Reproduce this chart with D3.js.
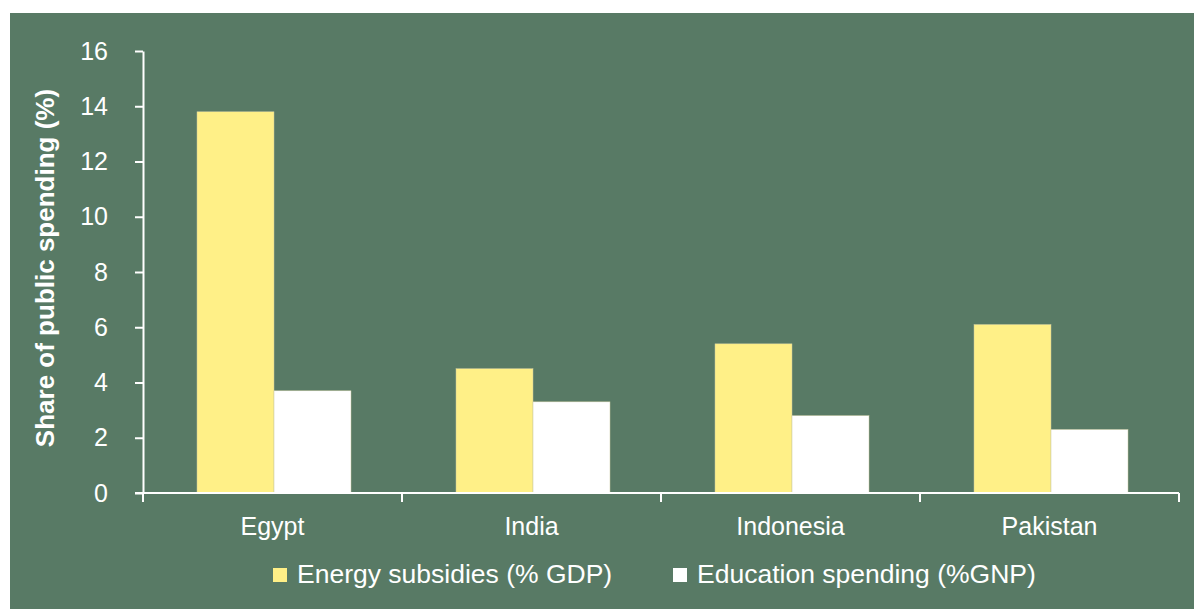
<!DOCTYPE html>
<meta charset="utf-8">
<style>
body { margin: 0; background: #fff; }
text { font-family: "Liberation Sans", Arial, sans-serif; fill: #fff; }
.axis path, .axis line { stroke: #fff; stroke-width: 2px; }
</style>
<svg class="chart" width="1194" height="609"></svg>
<script src="https://d3js.org/d3.v7.min.js"></script>
<script>

var countries = ["Egypt", "India", "Indonesia", "Pakistan"];
var energy = [13.8, 4.5, 5.4, 6.1];
var education = [3.7, 3.3, 2.8, 2.3];
var seriesNames = ["Energy subsidies (% GDP)", "Education spending (%GNP)"];
var seriesColors = ["#fff087", "#ffffff"];
var yTicks = [0, 2, 4, 6, 8, 10, 12, 14, 16];

var svg = d3.select(".chart");

svg.append("rect")
    .attr("x", 10).attr("y", 13)
    .attr("width", 1184).attr("height", 596)
    .attr("fill", "#587a65");

var x = d3.scaleBand().domain(countries).range([143, 1179]);
var y = d3.scaleLinear().domain([0, 16]).range([493, 51]);
var inner = d3.scaleBand().domain([0, 1]).range([54, 54 + 154]);

var rows = countries.map(function(c, i) {
  return { country: c, values: [energy[i], education[i]] };
});

var g = svg.append("g").selectAll("g")
    .data(rows)
    .enter().append("g")
      .attr("transform", function(d) { return "translate(" + x(d.country) + ",0)"; });

g.selectAll("rect")
    .data(function(d) { return d.values; })
    .enter().append("rect")
      .attr("x", function(d, i) { return inner(i); })
      .attr("width", inner.bandwidth())
      .attr("y", function(d) { return y(d); })
      .attr("height", function(d) { return y(0) - y(d); })
      .attr("fill", function(d, i) { return seriesColors[i]; })
      .attr("stroke", "#c8c8a0")
      .attr("stroke-width", 0.5);

// y axis
var yAxis = svg.append("g")
    .attr("class", "axis")
    .attr("transform", "translate(143,0)")
    .call(d3.axisLeft(y).tickValues(yTicks).tickSize(8).tickSizeOuter(0).tickPadding(27));
yAxis.selectAll("text")
    .style("font-size", "25px")
    .attr("fill", "#fff");

// x axis with ticks at category boundaries
var xAxis = svg.append("g")
    .attr("class", "axis")
    .attr("transform", "translate(0," + y(0) + ")");
xAxis.append("line")
    .attr("x1", 135).attr("x2", x.range()[1])
    .attr("y1", 0).attr("y2", 0);
xAxis.selectAll(".bound")
    .data(countries.concat(["end"]))
    .enter().append("line")
      .attr("x1", function(d, i) { return x.range()[0] + i * x.step(); })
      .attr("x2", function(d, i) { return x.range()[0] + i * x.step(); })
      .attr("y1", 0).attr("y2", 9);
xAxis.selectAll(".lab")
    .data(countries)
    .enter().append("text")
      .attr("x", function(d) { return x(d) + x.bandwidth() / 2; })
      .attr("y", 42)
      .attr("text-anchor", "middle")
      .style("font-size", "25px")
      .text(function(d) { return d; });

// y title
svg.append("text")
    .attr("transform", "translate(54,268) rotate(-90)")
    .attr("text-anchor", "middle")
    .style("font-size", "26px")
    .style("font-weight", "bold")
    .text("Share of public spending (%)");

// legend
var legX = [273, 673];
var leg = svg.append("g").selectAll("g")
    .data(seriesNames)
    .enter().append("g")
      .attr("transform", function(d, i) { return "translate(" + legX[i] + ",568)"; });
leg.append("rect")
    .attr("width", 14).attr("height", 14)
    .attr("fill", function(d, i) { return seriesColors[i]; });
leg.append("text")
    .attr("x", 24).attr("y", 15)
    .style("font-size", "26.5px")
    .text(function(d) { return d; });

</script>
